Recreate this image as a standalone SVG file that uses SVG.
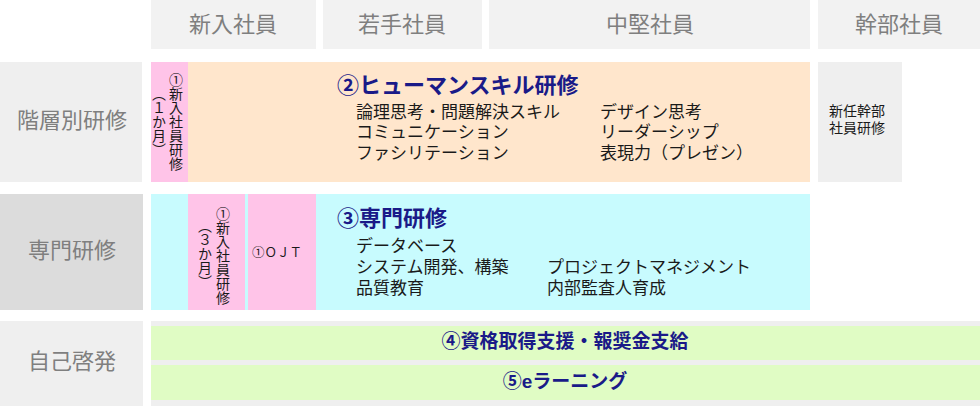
<svg xmlns="http://www.w3.org/2000/svg" width="980" height="406" viewBox="0 0 980 406">
<style>
.hd{fill:#f2f2f2}
.hdt{font-family:"Liberation Sans","Noto Sans CJK JP",sans-serif;font-size:22px;fill:#7f7f7f;text-anchor:middle}
.lbl{fill:#efefef}
.pink{fill:#ffc4e8}
.peach{fill:#ffe6cc}
.cyan{fill:#c8fbfe}
.green{fill:#e0fcc4}
.ttl{font-family:"Liberation Sans","Noto Sans CJK JP",sans-serif;font-size:22px;font-weight:bold;fill:#1a1a88}
.ttl2{font-family:"Liberation Sans","Noto Sans CJK JP",sans-serif;font-size:19px;font-weight:bold;fill:#1a1a88;text-anchor:middle}
.body{font-family:"Liberation Sans","Noto Sans CJK JP",sans-serif;font-size:17px;fill:#1a1a1a}
.sm{font-family:"Liberation Sans","Noto Sans CJK JP",sans-serif;font-size:14px;fill:#1a1a1a}
.vt{font-family:"Noto Sans CJK JP",sans-serif;font-size:14px;fill:#1a1a1a;writing-mode:vertical-rl;text-anchor:middle}
</style>
<rect width="980" height="406" fill="#ffffff"/>
<g id="headers">
<rect class="hd" x="151" y="0" width="165" height="49"/>
<text class="hdt" x="233" y="32">新入社員</text>
<rect class="hd" x="323" y="0" width="159" height="49"/>
<text class="hdt" x="402" y="32">若手社員</text>
<rect class="hd" x="489" y="0" width="321" height="49"/>
<text class="hdt" x="650" y="32">中堅社員</text>
<rect class="hd" x="818" y="0" width="162" height="49"/>
<text class="hdt" x="899" y="32">幹部社員</text>
</g>
<g id="row-labels">
<rect class="lbl" x="0" y="62" width="142" height="120"/>
<text class="hdt" x="72" y="128">階層別研修</text>
<rect x="0" y="194" width="143" height="116" fill="#dcdcdc"/>
<text class="hdt" x="72" y="258">専門研修</text>
<rect class="lbl" x="0" y="321" width="143" height="85"/>
<text class="hdt" x="72" y="369">自己啓発</text>
</g>
<g id="humanskill">
<rect class="peach" x="188" y="62" width="622" height="120"/>
<text class="ttl" x="337" y="93">②ヒューマンスキル研修</text>
<text class="body"><tspan x="356" y="118">論理思考・問題解決スキル</tspan><tspan x="356" y="138">コミュニケーション</tspan><tspan x="356" y="159">ファシリテーション</tspan></text>
<text class="body"><tspan x="600" y="118">デザイン思考</tspan><tspan x="600" y="138">リーダーシップ</tspan><tspan x="600" y="159">表現力（プレゼン）</tspan></text>
</g>
<g id="newhire1">
<rect class="pink" x="151" y="62" width="37" height="120"/>
<text class="vt" x="176" y="122">①新入社員研修</text>
<text class="vt" x="159" y="122">（１か月）</text>
</g>
<g id="executive">
<rect class="lbl" x="818" y="62" width="84" height="120"/>
<text class="sm"><tspan x="829" y="116">新任幹部</tspan><tspan x="829" y="133">社員研修</tspan></text>
</g>
<g id="specialty">
<rect class="cyan" x="151" y="194" width="659" height="116"/>
<text class="ttl" x="337" y="226">③専門研修</text>
<text class="body"><tspan x="356" y="252">データベース</tspan><tspan x="356" y="273">システム開発、構築</tspan><tspan x="356" y="294">品質教育</tspan></text>
<text class="body"><tspan x="547" y="273">プロジェクトマネジメント</tspan><tspan x="547" y="294">内部監査人育成</tspan></text>
</g>
<g id="newhire3">
<rect class="pink" x="188" y="194" width="57" height="116"/>
<text class="vt" x="223" y="256">①新入社員研修</text>
<text class="vt" x="205" y="254">（３か月）</text>
</g>
<g id="ojt">
<rect class="pink" x="248" y="194" width="68" height="116"/>
<text class="sm" x="252" y="257" style="font-size:12.5px">①ＯＪＴ</text>
</g>
<g id="selfdev">
<rect x="151" y="321" width="829" height="85" fill="#efefef"/>
<rect class="green" x="151" y="326" width="829" height="34"/>
<text class="ttl2" x="565" y="348">④資格取得支援・報奨金支給</text>
<rect class="green" x="151" y="365" width="829" height="35"/>
<text class="ttl2" x="565" y="388">⑤eラーニング</text>
</g>
<g id="connectors"></g>
</svg>
